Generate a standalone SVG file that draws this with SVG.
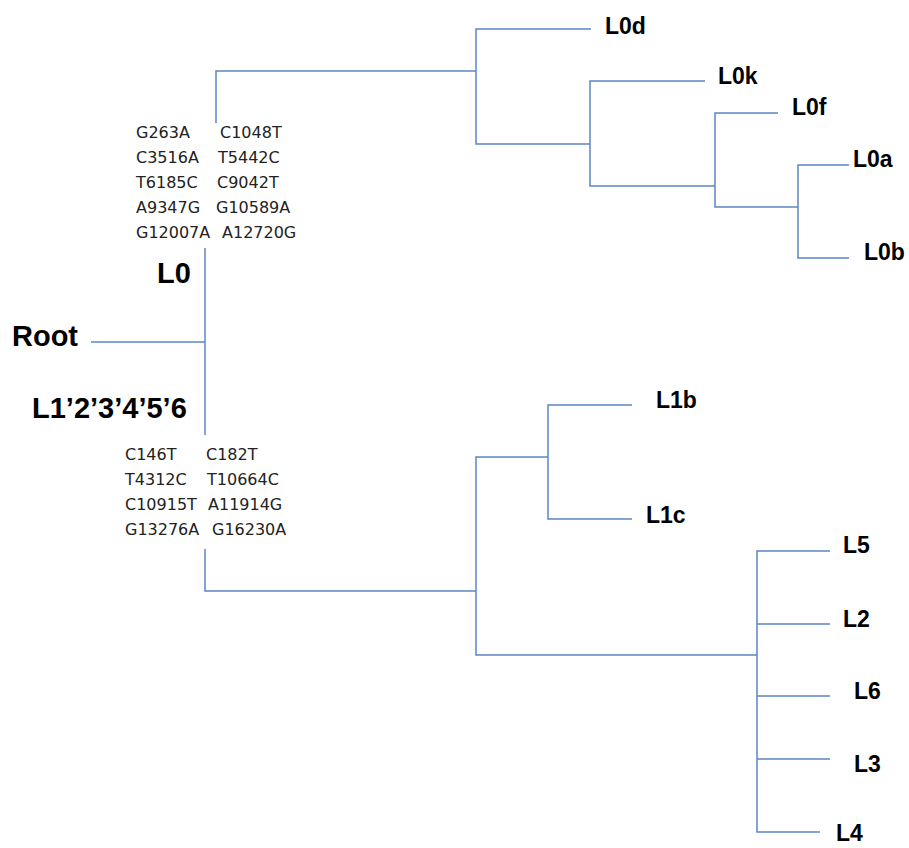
<svg xmlns="http://www.w3.org/2000/svg" width="909" height="848" viewBox="0 0 909 848">
<style>
.ln{stroke:#5b87c5;stroke-width:1.5;fill:none}
.lab{font-family:"Liberation Sans",Arial,sans-serif;font-weight:bold;font-size:23px;fill:#000}
.big{font-family:"Liberation Sans",Arial,sans-serif;font-weight:bold;font-size:29px;fill:#000}
.mut{font-family:"DejaVu Sans",sans-serif;font-size:16px;fill:#222}
</style>
<rect width="909" height="848" fill="#fff"/>
<g id="connectors">
<path class="ln" d="M216,123 V71 H476"/>
<path class="ln" d="M591,29 H476 V144 H590"/>
<path class="ln" d="M705,81 H590 V186 H715"/>
<path class="ln" d="M778,113 H715 V207 H798"/>
<path class="ln" d="M849,165 H798 V258 H849"/>
<path class="ln" d="M205,248 V435"/>
<path class="ln" d="M91,342 H205"/>
<path class="ln" d="M205,549 V591 H476"/>
<path class="ln" d="M548,457 H476 V655 H757"/>
<path class="ln" d="M632,405 H548 V519 H632"/>
<path class="ln" d="M830,551 H757 V832 H820"/>
<path class="ln" d="M757,624 H830 M757,696 H830 M757,759 H830"/>
</g>
<g id="root"><text class="big" x="12" y="346">Root</text></g>
<g id="L0"><text class="big" x="157" y="283">L0</text></g>
<g id="L1-6"><text class="big" x="32" y="418">L1’2’3’4’5’6</text></g>
<g id="L0-mutations" class="mut">
<text x="136" y="138">G263A</text><text x="220" y="138">C1048T</text>
<text x="136" y="163">C3516A</text><text x="218" y="163">T5442C</text>
<text x="136" y="188">T6185C</text><text x="217" y="188">C9042T</text>
<text x="136" y="213">A9347G</text><text x="216" y="213">G10589A</text>
<text x="136" y="238">G12007A</text><text x="222" y="238">A12720G</text>
</g>
<g id="L1-mutations" class="mut">
<text x="125" y="460">C146T</text><text x="206" y="460">C182T</text>
<text x="125" y="485">T4312C</text><text x="207" y="485">T10664C</text>
<text x="125" y="510">C10915T</text><text x="208" y="510">A11914G</text>
<text x="125" y="535">G13276A</text><text x="212" y="535">G16230A</text>
</g>
<g id="L0d"><text class="lab" x="605" y="34">L0d</text></g>
<g id="L0k"><text class="lab" x="718" y="84">L0k</text></g>
<g id="L0f"><text class="lab" x="792" y="115">L0f</text></g>
<g id="L0a"><text class="lab" x="853" y="167">L0a</text></g>
<g id="L0b"><text class="lab" x="864" y="260">L0b</text></g>
<g id="L1b"><text class="lab" x="656" y="408">L1b</text></g>
<g id="L1c"><text class="lab" x="646" y="523">L1c</text></g>
<g id="L5"><text class="lab" x="843" y="553">L5</text></g>
<g id="L2"><text class="lab" x="843" y="627">L2</text></g>
<g id="L6"><text class="lab" x="854" y="699">L6</text></g>
<g id="L3"><text class="lab" x="854" y="772">L3</text></g>
<g id="L4"><text class="lab" x="836" y="841">L4</text></g>
</svg>
